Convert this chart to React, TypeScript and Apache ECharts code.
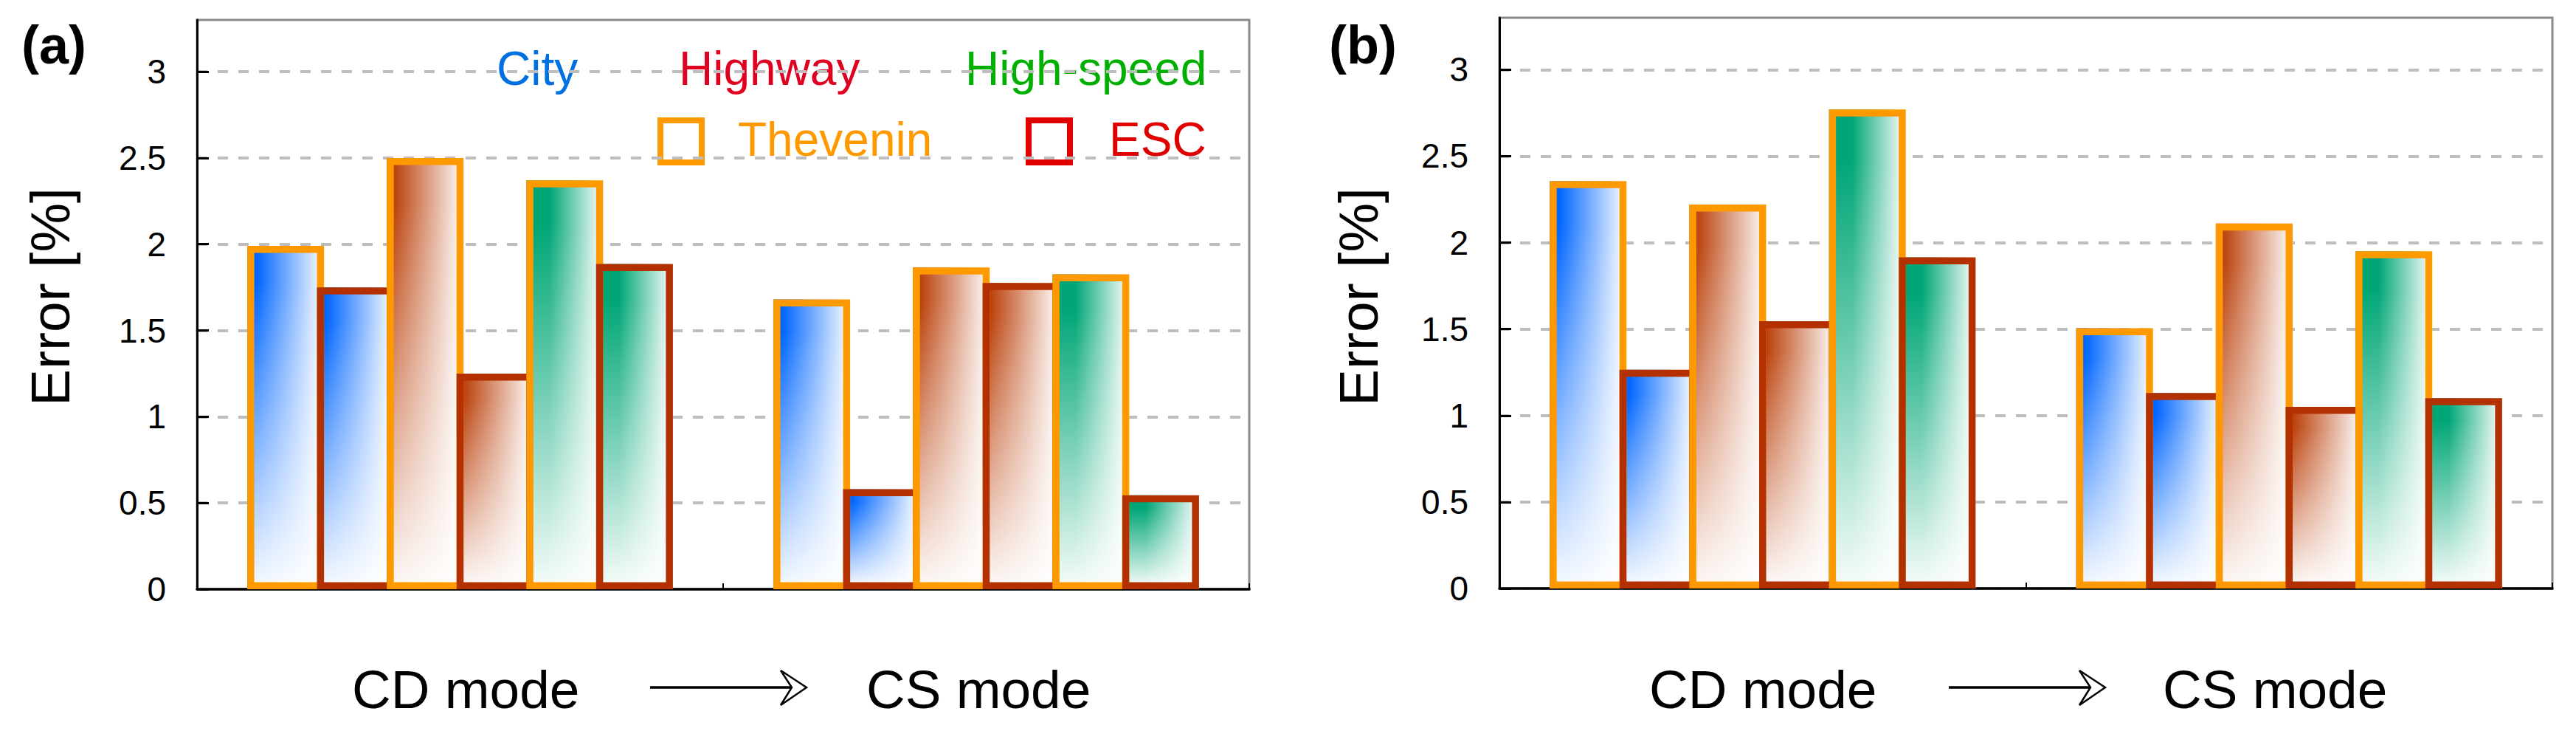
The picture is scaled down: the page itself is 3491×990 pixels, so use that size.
import React, { useEffect, useRef } from 'react';
import * as echarts from 'echarts';

const modes = ['CD mode', 'CS mode'];
const regions = ['City', 'Highway', 'High-speed'];
const models = ['Thevenin', 'ESC'];
const yTicks = [0, 0.5, 1, 1.5, 2, 2.5, 3];

// [CD, CS] per region
const errA_Thevenin = [[1.99, 1.68], [2.5, 1.865], [2.37, 1.825]];
const errA_ESC = [[1.75, 0.58], [1.25, 1.775], [1.885, 0.545]];
const errB_Thevenin = [[2.355, 1.505], [2.22, 2.11], [2.77, 1.95]];
const errB_ESC = [[1.265, 1.13], [1.545, 1.05], [1.915, 1.1]];

const regionColors = ['#0066FF', '#B83800', '#00A676'];
const regionSolid = [0.12, 0.05, 0.3];
const regionTextColors = ['#0070E0', '#E00020', '#00B000'];
const modelBorders = ['#FF9900', '#B33000'];
const modelLegendColors = ['#FF9900', '#E00000'];

const FONT = 'Liberation Sans, Arial, sans-serif';
const BAR_GAP = '-9.1%';
const CAT_GAP = '19.1%';

const hGrad = (c: string, solid: number) => ({
  type: 'linear', x: 0, y: 0, x2: 1, y2: 0,
  colorStops: [
    { offset: 0, color: c },
    { offset: solid, color: c },
    { offset: 1, color: '#ffffff' },
  ],
});

const vFade = {
  type: 'linear', x: 0, y: 0, x2: 0, y2: 1,
  colorStops: [
    { offset: 0, color: 'rgba(255,255,255,0)' },
    { offset: 0.1, color: 'rgba(255,255,255,0)' },
    { offset: 1, color: 'rgba(255,255,255,0.96)' },
  ],
};

const txt = (text: string, x: number, y: number, fill: string, fontSize: number, extra: any = {}) => ({
  type: 'text', x, y, silent: true,
  style: { text, fill, fontSize, fontFamily: FONT, align: 'left', verticalAlign: 'middle', ...extra },
});

const arrow = (x0: number, x1: number, tip: number, y: number) => [
  { type: 'line', shape: { x1: x0, y1: y, x2: x1, y2: y }, style: { stroke: '#000', lineWidth: 3.5 } },
  {
    type: 'polygon',
    shape: { points: [[tip - 35, y - 23], [tip, y], [tip - 35, y + 24], [tip - 20, y]] },
    style: { fill: '#fff', stroke: '#000', lineWidth: 2.5 },
  },
];

const App: React.FC = () => {
  const chartRef = useRef<HTMLDivElement>(null);

  useEffect(() => {
    if (!chartRef.current) return;
    document.body.style.margin = '0';
    const chart = echarts.init(chartRef.current, undefined, { renderer: 'svg' });

    const panels = [
      { th: errA_Thevenin, esc: errA_ESC },
      { th: errB_Thevenin, esc: errB_ESC },
    ];

    const baseSeries: any[] = [];
    const topSeries: any[] = [];
    panels.forEach((p, pi) => {
      regions.forEach((r, ri) => {
        models.forEach((m, mi) => {
          const data = mi === 0 ? p.th[ri] : p.esc[ri];
          baseSeries.push({
            type: 'bar', name: `${r} ${m}`, xAxisIndex: pi * 2, yAxisIndex: pi, data,
            barGap: BAR_GAP, barCategoryGap: CAT_GAP,
            itemStyle: { color: hGrad(regionColors[ri], regionSolid[ri]) },
          });
          topSeries.push({
            type: 'bar', name: `${r} ${m}`, xAxisIndex: pi * 2 + 1, yAxisIndex: pi, data,
            barGap: BAR_GAP, barCategoryGap: CAT_GAP,
            itemStyle: { color: vFade, borderColor: modelBorders[mi], borderWidth: 9.5 },
          });
        });
      });
    });

    const grids = [
      { left: 267, top: 27, width: 1426, height: 771 },
      { left: 2032, top: 24, width: 1427, height: 773 },
    ].map((g) => ({ ...g, show: true, borderColor: '#8a8a8a', borderWidth: 3, backgroundColor: 'transparent' }));

    const xAxes: any[] = [];
    [0, 1].forEach((gi) => {
      xAxes.push({
        type: 'category', gridIndex: gi, data: modes, position: 'bottom',
        axisLine: { show: true, lineStyle: { color: '#000', width: 3.5 } },
        axisTick: { show: true, inside: true, length: 8, lineStyle: { color: '#000', width: 2 } },
        axisLabel: { show: false },
        splitLine: { show: false },
      });
      xAxes.push({ type: 'category', gridIndex: gi, data: modes, show: false });
    });

    const yAxes = [0, 1].map((gi) => ({
      type: 'value', gridIndex: gi, min: 0, max: 3.3, interval: 0.5,
      axisLine: { show: true, lineStyle: { color: '#000', width: 3 } },
      axisTick: { show: true, inside: true, length: 16, customValues: yTicks, lineStyle: { color: '#000', width: 3 } },
      axisLabel: {
        margin: 42, fontSize: 46, fontFamily: FONT, color: '#000',
        customValues: yTicks,
        formatter: (v: number) => (yTicks.includes(v) ? String(v) : ''),
      },
      splitLine: { show: true, lineStyle: { color: '#bdbdbd', width: 4, type: [14, 14] } },
    }));

    const graphics: any[] = [];
    // panel labels, axis titles, x captions
    [
      { tag: '(a)', tagX: 29, errX: 68, cd: 477, cs: 1174, ax: 881, tip: 1093 },
      { tag: '(b)', tagX: 1801, errX: 1841, cd: 2235, cs: 2931, ax: 2641, tip: 2853 },
    ].forEach((p) => {
      graphics.push(txt(p.tag, p.tagX, 61, '#000', 72, { fontWeight: 'bold' }));
      graphics.push({
        ...txt('Error [%]', p.errX, 402, '#000', 75, { align: 'center' }),
        rotation: Math.PI / 2,
      });
      graphics.push(txt(modes[0], p.cd, 933, '#000', 73));
      graphics.push(txt(modes[1], p.cs, 933, '#000', 73));
      graphics.push(...arrow(p.ax, p.tip - 20, p.tip, 931));
    });

    // legend inside panel (a)
    const regionX = [673, 920, 1308];
    regions.forEach((r, i) => graphics.push(txt(r, regionX[i], 93, regionTextColors[i], 64)));
    const boxX = [895, 1394];
    const modelX = [1000, 1503];
    models.forEach((m, i) => {
      graphics.push({
        type: 'rect', shape: { x: boxX[i], y: 163, width: 56, height: 57 },
        style: { fill: '#fff', stroke: modelLegendColors[i], lineWidth: 8 },
      });
      graphics.push(txt(m, modelX[i], 189, modelLegendColors[i], 64));
    });

    chart.setOption({
      animation: false,
      backgroundColor: '#fff',
      grid: grids,
      xAxis: xAxes,
      yAxis: yAxes,
      series: [...baseSeries, ...topSeries],
      graphic: graphics,
    });

    return () => chart.dispose();
  }, []);

  return <div ref={chartRef} style={{ width: '3491px', height: '990px' }} />;
};

export default App;
